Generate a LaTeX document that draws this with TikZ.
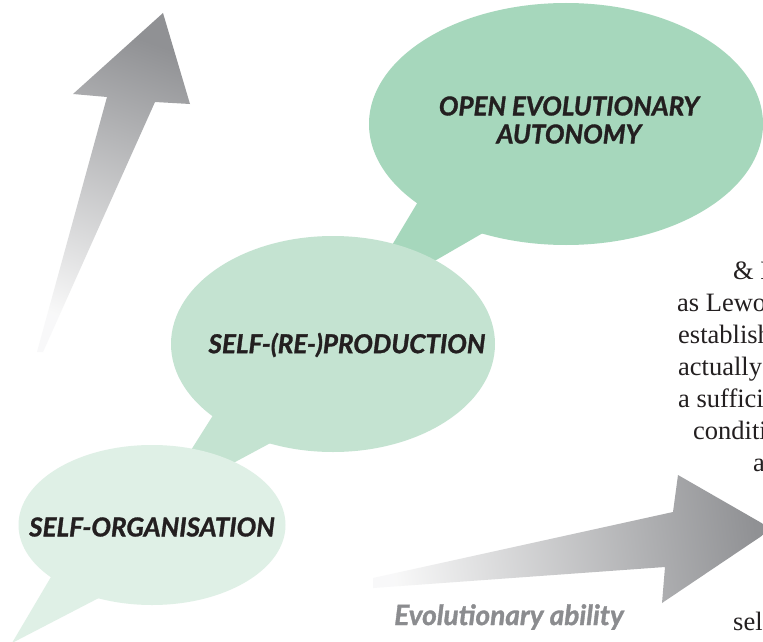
\documentclass[tikz,border=0pt]{standalone}
\usepackage{fontspec}
\setmainfont{Liberation Serif}
\newfontfamily\labelfont{Lato}[BoldItalicFeatures={FakeBold=1.2}]
\usetikzlibrary{shapes.geometric}

\definecolor{bubbleA}{HTML}{A6D7BC}
\definecolor{bubbleB}{HTML}{C4E3D1}
\definecolor{bubbleC}{HTML}{DFF0E6}
\definecolor{arrowgray}{HTML}{909194}
\definecolor{labelink}{HTML}{231F20}
\definecolor{abilitygray}{HTML}{8B8C8F}
\definecolor{bodyink}{HTML}{231F20}

\begin{document}
\begin{tikzpicture}[x=1pt,y=-1pt,
  bubble/.style={ellipse, inner sep=0pt, draw=none},
  bubbletext/.style={font=\labelfont\bfseries\itshape\fontsize{26}{28}\selectfont,
    text=labelink, align=center, inner sep=0pt},
  bodytext/.style={font=\fontsize{26.5}{32}\selectfont, text=bodyink,
    anchor=base west, inner sep=0pt},
  growth/.style={top color=arrowgray, bottom color=arrowgray!6}
]
\useasboundingbox (0,0) rectangle (763,642);
\clip (0,0) rectangle (763,642);
\fill[white] (0,0) rectangle (763,642);

% upward arrow, fading towards its tail
\shade[growth, shading angle=-20]
  (37,352) -- (107,97) -- (73,94) -- (163,13) -- (190,104) -- (155,102) -- (43,352) -- cycle;

% horizontal arrow: evolutionary ability
\shade[growth, shading angle=-82]
  (373,578) -- (673,512) -- (678,475) -- (772,529) -- (662,603) -- (665,567) -- (373,588) -- cycle;

% speech bubbles, top to bottom
\fill[bubbleA] (355,307) -- (437,170) -- (540,200) -- cycle;
\node[bubble, fill=bubbleA, minimum width=394pt, minimum height=242pt] (openB) at (566,124) {};

\fill[bubbleB] (157,504) -- (229,390) -- (304,425) -- cycle;
\node[bubble, fill=bubbleB, minimum width=324pt, minimum height=216pt] (reprodB) at (333,344) {};

\fill[bubbleC] (12,643) -- (61,560) -- (120,587) -- cycle;
\node[bubble, fill=bubbleC, minimum width=267pt, minimum height=160pt] (orgB) at (152,525) {};

% bubble labels
\node[bubbletext] (openL) at (569,120) {OPEN EVOLUTIONARY\\AUTONOMY};
\node[bubbletext] (reprodL) at (347,345) {SELF-(RE-)PRODUCTION};
\node[bubbletext] (orgL) at (152,527) {SELF-ORGANISATION};
\node[bubbletext, text=abilitygray, font=\labelfont\bfseries\itshape\fontsize{28}{30}\selectfont]
  (abilityL) at (509,617) {Evolutionary ability};

% running text at the right margin
\node[bodytext] (t1) at (733,279) {\& L};
\node[bodytext] (t2) at (677,311) {as Lewo};
\node[bodytext] (t3) at (678,343) {establish};
\node[bodytext] (t4) at (678,375) {actually};
\node[bodytext] (t5) at (678,407) {a suffici};
\node[bodytext] (t6) at (693,439) {conditi};
\node[bodytext] (t7) at (753,471) {a};
\node[bodytext] (t8) at (733,630) {sel};
\end{tikzpicture}
\end{document}
